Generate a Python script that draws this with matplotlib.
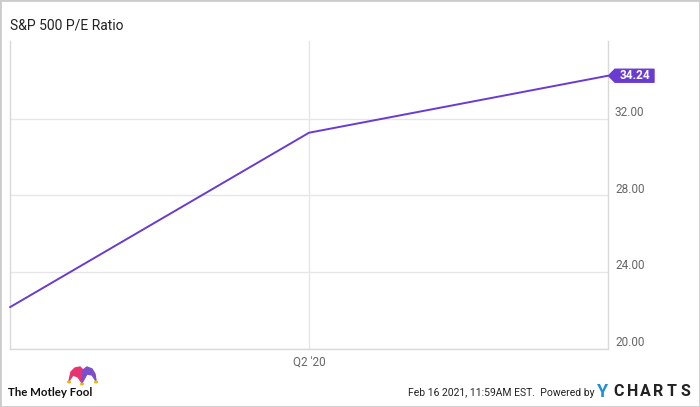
import numpy as np
import matplotlib.pyplot as plt
from matplotlib.patches import Polygon, Rectangle, Circle

plt.rcParams['font.family'] = ['Roboto', 'DejaVu Sans']

# data
x = [0, 1, 2]
pe = [22.18, 31.27, 34.24]
xticks = [1]
xticklabels = ["Q2 '20"]
yticks = [20, 24, 28, 32]

purple = '#6a3bd0'
grid = '#e6e6e6'

fig = plt.figure(figsize=(7, 4.07), dpi=100)
ax = fig.add_axes([10/700, 1-349/407, 598/700, 308/407])
ax.plot(x, pe, color=purple, lw=1.4, solid_capstyle='round', clip_on=False, zorder=3)
ax.set_xlim(0, 2)
ax.set_ylim(20, 36.05)
ax.set_xticks(xticks)
ax.set_xticklabels(xticklabels, color='#666666', fontsize=8.5)
ax.set_yticks(yticks)
ax.set_yticklabels([])
ax.tick_params(length=0, pad=5)
ax.grid(True, color=grid, lw=1)
for s in ax.spines.values():
    s.set_color('#d9d9d9')
    s.set_linewidth(1)
ax.spines['top'].set_visible(False)
for v in yticks:
    ax.annotate('%.2f' % v, (1, v), xycoords=('axes fraction', 'data'), xytext=(5, 4.5),
                textcoords='offset points', color='#666666', fontsize=8.5, va='center', ha='left')

# value tag
y_last = pe[-1]
px, py = ax.transData.transform((2, y_last))
fx, fy = px/700, py/407
w, h, a = 46/700, 13/407, 7/700
tag = Polygon([(fx+0.5/700, fy), (fx+a, fy+h/2), (fx+w, fy+h/2), (fx+w, fy-h/2), (fx+a, fy-h/2)],
              closed=True, transform=fig.transFigure, color=purple, clip_on=False)
fig.patches.append(tag)
fig.text(fx+a+(w-a)/2, fy, '%.2f' % y_last, color='white', fontsize=8.5, fontweight='bold',
         ha='center', va='center')

fig.text(10/700, 1-25/407, 'S&P 500 P/E Ratio', fontsize=10, color='#222222', va='center')

# footer
fig.text(8/700, 1-393/407, 'The Motley Fool', fontsize=8.3, color='#111111', va='center',
         fontweight='bold', family=['Lato', 'DejaVu Sans'])
# jester hat
P = lambda pts: [(px_/700, 1-py_/407) for px_, py_ in pts]
fig.patches.append(Polygon(P([(69, 381), (71, 372), (75, 368), (80, 367), (83, 370), (82, 383), (78, 377), (73, 375)]),
                           transform=fig.transFigure, color='#e8336f'))
fig.patches.append(Polygon(P([(82, 383), (83, 370), (87, 367), (92, 369), (95, 374), (96, 381), (92, 375), (87, 374)]),
                           transform=fig.transFigure, color='#7b4fc9'))
for cx, cy in [(69, 382), (82, 384), (96, 382)]:
    fig.patches.append(Circle((cx/700, 1-cy/407), 1.3/700, transform=fig.transFigure, color='#f4b400'))

fig.text(595/700, 1-393/407, 'Feb 16 2021, 11:59AM EST.  Powered by', fontsize=7.5, color='#222222',
         ha='right', va='center')
fig.text(597/700, 1-392/407, 'Y', fontsize=13, color='#1e8fe0', fontweight='bold', va='center')
for i, ch in enumerate('CHARTS'):
    fig.text((619 + i*13.2)/700, 1-392/407, ch, fontsize=11.5, color='#222222', fontweight='bold',
             va='center', ha='center')

fig.patches.append(Rectangle((0, 0), 1, 1, transform=fig.transFigure, fill=False,
                             edgecolor='#cccccc', lw=2))

fig.savefig('out.png', dpi=100)
